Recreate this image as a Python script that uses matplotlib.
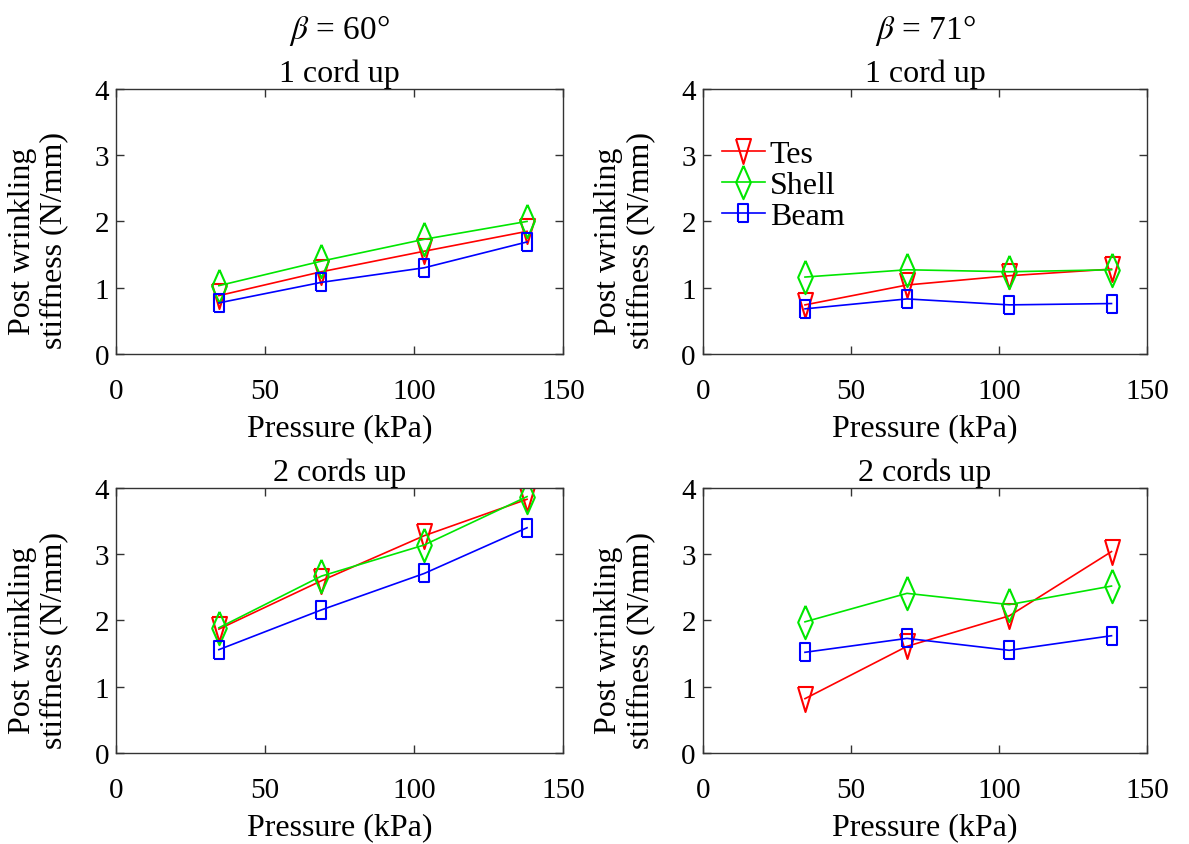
"""Post wrinkling stiffness vs pressure, 2x2 panels (MATLAB-style)."""
import matplotlib
matplotlib.use("Agg")
import matplotlib.pyplot as plt
from matplotlib.path import Path

# pressures (kPa)
pressure = [34.5, 68.9, 103.4, 137.9]

# beta = 60 deg, 1 cord up
tes_60_1 = [0.88, 1.24, 1.55, 1.85]
shell_60_1 = [1.03, 1.40, 1.73, 2.00]
beam_60_1 = [0.77, 1.08, 1.30, 1.69]

# beta = 71 deg, 1 cord up
tes_71_1 = [0.74, 1.04, 1.18, 1.28]
shell_71_1 = [1.16, 1.27, 1.24, 1.27]
beam_71_1 = [0.68, 0.83, 0.74, 0.76]

# beta = 60 deg, 2 cords up
tes_60_2 = [1.87, 2.60, 3.28, 3.83]
shell_60_2 = [1.89, 2.67, 3.14, 3.87]
beam_60_2 = [1.56, 2.16, 2.71, 3.40]

# beta = 71 deg, 2 cords up
tes_71_2 = [0.82, 1.61, 2.07, 3.04]
shell_71_2 = [1.98, 2.41, 2.24, 2.52]
beam_71_2 = [1.52, 1.73, 1.55, 1.77]

titles = ["1 cord up", "1 cord up", "2 cords up", "2 cords up"]
col_headers = [r"$\beta$ = 60°", r"$\beta$ = 71°"]
series_names = ["Tes", "Shell", "Beam"]

plt.rcParams["font.family"] = ["Liberation Serif", "DejaVu Serif"]
plt.rcParams["mathtext.fontset"] = "stix"
plt.rcParams["font.size"] = 22

# narrow markers like the MATLAB export
tri = Path([(-0.3, 0.5), (0.3, 0.5), (0, -0.5), (-0.3, 0.5)])
diamond = Path([(0, 0.5), (0.22, 0), (0, -0.5), (-0.22, 0), (0, 0.5)])
rect = Path([(-0.28, -0.5), (0.28, -0.5), (0.28, 0.5), (-0.28, 0.5), (-0.28, -0.5)])

styles = [
    dict(color="#ff0000", marker=tri, markersize=18),
    dict(color="#00e600", marker=diamond, markersize=24),
    dict(color="#0000ff", marker=rect, markersize=13),
]

fig = plt.figure(figsize=(11.89, 8.45), dpi=100)
positions = [
    [0.0976, 0.580, 0.376, 0.3136],
    [0.591, 0.580, 0.374, 0.3136],
    [0.0976, 0.1077, 0.376, 0.3136],
    [0.591, 0.1077, 0.374, 0.3136],
]
panels = [
    (tes_60_1, shell_60_1, beam_60_1),
    (tes_71_1, shell_71_1, beam_71_1),
    (tes_60_2, shell_60_2, beam_60_2),
    (tes_71_2, shell_71_2, beam_71_2),
]

for i, (pos, data) in enumerate(zip(positions, panels)):
    ax = fig.add_axes(pos)
    for name, vals, st in zip(series_names, data, styles):
        ax.plot(pressure, vals, label=name, linewidth=1.2,
                markerfacecolor="none", markeredgewidth=1.5, **st)
    ax.set_xlim(0, 150)
    ax.set_ylim(0, 4)
    ax.set_xticks([0, 50, 100, 150])
    ax.set_yticks([0, 1, 2, 3, 4])
    ax.tick_params(direction="in", top=True, right=True, length=6,
                   width=1, labelsize=21, colors="#333333",
                   labelcolor="black")
    ax.tick_params(axis="x", pad=17)
    ax.tick_params(axis="y", pad=5)
    for sp in ax.spines.values():
        sp.set_color("#333333")
        sp.set_linewidth(1.0)
    ax.set_xlabel("Pressure (kPa)", fontsize=23, labelpad=7)
    ax.set_ylabel("Post wrinkling\nstiffness (N/mm)", fontsize=23,
                  linespacing=1.12)
    # x anchor is the right edge of the (rotated) label block
    ax.yaxis.set_label_coords(-0.107, 0.43)
    ax.set_title(titles[i], fontsize=23, pad=6)
    if i == 1:
        ax.legend(loc="upper left", frameon=False, fontsize=23,
                  handlelength=1.35, handletextpad=0.15, labelspacing=0.05,
                  borderaxespad=0.2, bbox_to_anchor=(0.0, 0.88))

fig.text(0.0976 + 0.376 / 2, 0.964, col_headers[0], ha="center",
         va="center", fontsize=24)
fig.text(0.591 + 0.374 / 2, 0.964, col_headers[1], ha="center",
         va="center", fontsize=24)

fig.savefig("out.png", dpi=100)
